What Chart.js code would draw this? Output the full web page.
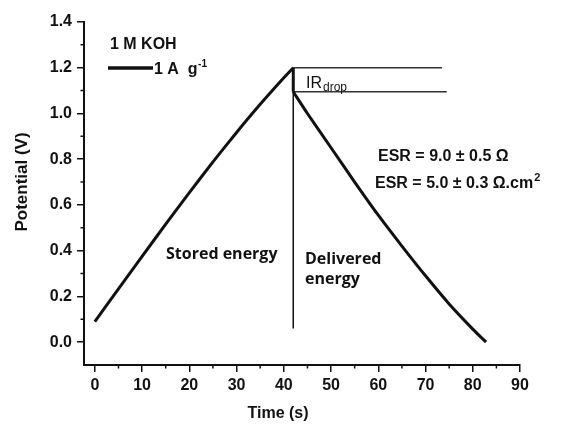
<!DOCTYPE html>
<html>
<head>
<meta charset="utf-8">
<script src="https://cdn.jsdelivr.net/npm/chart.js@4.4.1/dist/chart.umd.min.js"></script>
<style>
  html, body { margin: 0; padding: 0; background: #fff; }
  #wrap { position: relative; width: 567px; height: 426px; }
</style>
</head>
<body>
<div id="wrap"><canvas id="c" width="567" height="426"></canvas></div>
<script>
// ---- data ----
const chargeTime      = [0, 5, 10, 15, 20, 25, 30, 35, 40, 42];
const chargeVoltage   = [0.09, 0.233, 0.375, 0.516, 0.654, 0.788, 0.917, 1.04, 1.156, 1.2];
const dropTime        = [42, 42];
const dropVoltage     = [1.2, 1.095];
const dischargeTime   = [42, 45, 50, 55, 60, 65, 70, 75, 80, 82.8];
const dischargeVoltage= [1.095, 1.0, 0.85, 0.70, 0.555, 0.42, 0.29, 0.167, 0.057, 0.0];
// guide lines (time, potential)
const markerLineTime  = [42, 42];
const markerLineV     = [1.2, 0.06];
const topGuideTime    = [42, 73.5];
const topGuideV       = [1.2, 1.2];
const lowGuideTime    = [42, 74.5];
const lowGuideV       = [1.095, 1.095];
// ticks
const xTicks      = [0, 10, 20, 30, 40, 50, 60, 70, 80, 90];
const xMinorTicks = [5, 15, 25, 35, 45, 55, 65, 75, 85];
const yTicks      = [0.0, 0.2, 0.4, 0.6, 0.8, 1.0, 1.2, 1.4];
const yMinorTicks = [0.1, 0.3, 0.5, 0.7, 0.9, 1.1, 1.3];
const seriesLabel = '1 A g⁻¹';

const pts = (xs, ys) => xs.map((x, i) => ({ x: x, y: ys[i] }));
const INK = '#111';
const ARIAL = '"Liberation Sans", Arial, sans-serif';

const minorTickPlugin = {
  id: 'minorTicks',
  afterDraw(chart) {
    const ctx = chart.ctx;
    const xs = chart.scales.x, ys = chart.scales.y;
    const ca = chart.chartArea;
    ctx.save();
    ctx.strokeStyle = INK;
    ctx.lineWidth = 1.5;
    ctx.beginPath();
    xMinorTicks.forEach(v => {
      const px = xs.getPixelForValue(v);
      ctx.moveTo(px, ca.bottom); ctx.lineTo(px, ca.bottom + 3.5);
    });
    yMinorTicks.forEach(v => {
      const py = ys.getPixelForValue(v);
      ctx.moveTo(ca.left, py); ctx.lineTo(ca.left - 3.5, py);
    });
    ctx.stroke();

    // axis titles
    ctx.fillStyle = INK;
    ctx.font = 'bold 16px ' + ARIAL;
    ctx.textAlign = 'center';
    ctx.textBaseline = 'alphabetic';
    ctx.fillText('Time (s)', 278, 418);
    ctx.save();
    ctx.translate(27, 182);
    ctx.rotate(-Math.PI / 2);
    ctx.font = 'bold 17px ' + ARIAL;
    ctx.fillText('Potential (V)', 0, 0);
    ctx.restore();

    // legend
    ctx.textAlign = 'left';
    ctx.font = 'bold 16px ' + ARIAL;
    ctx.fillText('1 M KOH', 110, 48.5);
    ctx.strokeStyle = INK;
    ctx.lineWidth = 3.5;
    ctx.beginPath(); ctx.moveTo(108, 68); ctx.lineTo(153, 68); ctx.stroke();
    const parts = seriesLabel.split('⁻');
    let lx = 154;
    const mainTxt = parts[0].replace(' g', '  g');
    ctx.fillText(mainTxt, lx, 74);
    lx += ctx.measureText(mainTxt).width;
    ctx.font = 'bold 10px ' + ARIAL;
    ctx.fillText('-' + parts[1].replace('¹', '1'), lx + 0.5, 67);

    // IR drop label
    ctx.font = '16px ' + ARIAL;
    ctx.fillText('IR', 306, 88);
    let ix = 306 + ctx.measureText('IR').width + 1;
    ctx.font = '12px ' + ARIAL;
    ctx.fillText('drop', ix, 91);

    // ESR texts
    ctx.font = 'bold 16px ' + ARIAL;
    ctx.fillText('ESR = 9.0 ± 0.5 Ω', 378, 160.5);
    const e2 = 'ESR = 5.0 ± 0.3 Ω.cm';
    ctx.fillText(e2, 375, 187.5);
    const w2 = ctx.measureText(e2).width;
    ctx.font = 'bold 11px ' + ARIAL;
    ctx.fillText('2', 375 + w2 + 1, 180.5);

    // energy labels
    ctx.font = '700 16px "Open Sans", "DejaVu Sans", sans-serif';
    ctx.fillText('Stored energy', 166, 258.5);
    ctx.fillText('Delivered', 305, 263.5);
    ctx.fillText('energy', 305, 283.5);
    ctx.restore();
  }
};

const tickFont = { family: ARIAL, size: 16, weight: 'bold' };

new Chart(document.getElementById('c'), {
  type: 'line',
  data: {
    datasets: [
      { label: seriesLabel, data: pts(chargeTime, chargeVoltage), borderColor: INK, borderWidth: 3, tension: 0.2, pointRadius: 0, fill: false },
      { label: 'drop', data: pts(dropTime, dropVoltage), borderColor: INK, borderWidth: 3, tension: 0, pointRadius: 0, fill: false },
      { label: 'discharge', data: pts(dischargeTime, dischargeVoltage), borderColor: INK, borderWidth: 3, tension: 0.2, pointRadius: 0, fill: false },
      { label: 'marker', data: pts(markerLineTime, markerLineV), borderColor: INK, borderWidth: 1.5, pointRadius: 0, fill: false },
      { label: 'top guide', data: pts(topGuideTime, topGuideV), borderColor: '#333', borderWidth: 1.5, pointRadius: 0, fill: false },
      { label: 'low guide', data: pts(lowGuideTime, lowGuideV), borderColor: '#333', borderWidth: 1.5, pointRadius: 0, fill: false }
    ]
  },
  options: {
    responsive: false,
    animation: false,
    devicePixelRatio: 1,
    layout: { padding: { left: 0, right: 47, top: 22, bottom: 0 } },
    scales: {
      x: {
        type: 'linear', min: -2.3, max: 90,
        afterBuildTicks: s => { s.ticks = xTicks.map(v => ({ value: v })); },
        afterFit: s => { s.height = 61; },
        grid: { display: true, drawOnChartArea: false, drawTicks: true, tickLength: 7, color: INK, lineWidth: 1.5 },
        border: { display: true, color: INK, width: 2 },
        ticks: { font: tickFont, color: INK, padding: 4, maxRotation: 0, autoSkip: false, callback: v => String(v) }
      },
      y: {
        type: 'linear', min: -0.1, max: 1.4,
        afterBuildTicks: s => { s.ticks = yTicks.map(v => ({ value: v })); },
        afterFit: s => { s.width = 84; },
        grid: { display: true, drawOnChartArea: false, drawTicks: true, tickLength: 7, color: INK, lineWidth: 1.5 },
        border: { display: true, color: INK, width: 2 },
        ticks: { font: tickFont, color: INK, padding: 5, autoSkip: false, callback: v => Number(v).toFixed(1) }
      }
    },
    plugins: { legend: { display: false }, tooltip: { enabled: false } }
  },
  plugins: [minorTickPlugin]
});
</script>
</body>
</html>
